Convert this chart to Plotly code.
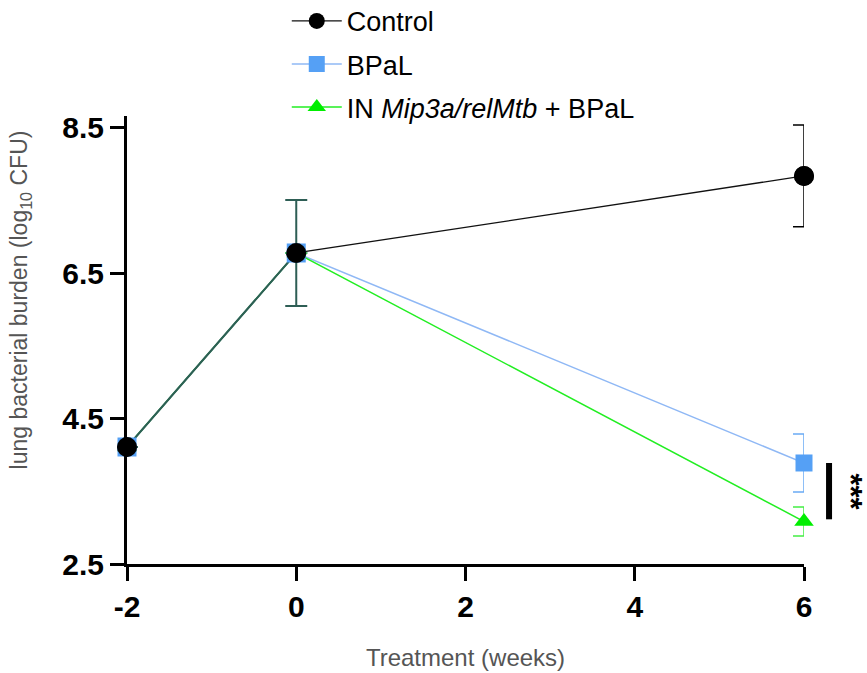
import plotly.graph_objects as go

weeks = [-2, 0, 6]
control = [4.11, 6.78, 7.84]
control_err = [0.0, 0.73, 0.70]
bpal = [4.11, 6.78, 3.89]
bpal_err = [0.0, 0.0, 0.40]
mip = [4.11, 6.78, 3.085]
mip_err = [0.0, 0.0, 0.20]
names = ["Control", "BPaL", "IN <i>Mip3a/relMtb</i> + BPaL"]
yticks = [2.5, 4.5, 6.5, 8.5]
xticks = [-2, 0, 2, 4, 6]
xticktext = ["-2", "0", "2", "4", "6"]

teal = "#2e5e55"
fig = go.Figure()

fig.add_trace(go.Scatter(
    x=weeks, y=control, name=names[0], legendgroup="a",
    mode="lines+markers", cliponaxis=False,
    line=dict(color="#111111", width=1.3),
    marker=dict(symbol="circle", size=20, color="black"),
    error_y=dict(type="data", array=[0, 0, control_err[2]], color="black", thickness=1.5, width=11),
))
fig.add_trace(go.Scatter(
    x=weeks, y=bpal, name=names[1], legendgroup="b",
    mode="lines+markers", cliponaxis=False,
    line=dict(color="#8fb8f5", width=1.5),
    marker=dict(symbol="square", size=17, color="#55a0f5"),
    error_y=dict(type="data", array=bpal_err, color="#6aaaf5", thickness=1.5, width=11),
))
fig.add_trace(go.Scatter(
    x=weeks, y=mip, name=names[2], legendgroup="c",
    mode="lines+markers", cliponaxis=False,
    line=dict(color="#22ee22", width=1.5),
    marker=dict(symbol="triangle-up", size=17, color="#00ee00"),
    error_y=dict(type="data", array=mip_err, color="#44ee44", thickness=1.5, width=11),
))
# overlapping segment & week-0 error bar (blended colour in reference)
fig.add_trace(go.Scatter(
    x=weeks[:2], y=control[:2], showlegend=False,
    mode="lines+markers", cliponaxis=False,
    line=dict(color=teal, width=2),
    marker=dict(symbol="square", size=19, color="#55a0f5"),
    error_y=dict(type="data", array=control_err[:2], color=teal, thickness=2, width=11),
))
fig.add_trace(go.Scatter(
    x=weeks, y=control, showlegend=False,
    mode="markers", cliponaxis=False,
    marker=dict(symbol="circle", size=20, color="black"),
))

# significance bar and stars
fig.add_shape(type="line", xref="paper", yref="y",
              x0=1.037, x1=1.037, y0=bpal[2], y1=mip[2] + 0.03,
              line=dict(color="black", width=6))
fig.add_annotation(xref="paper", yref="y", x=1.098, y=(bpal[2] + mip[2]) / 2,
                   text="***", showarrow=False, textangle=90,
                   font=dict(family="Liberation Sans", size=31, color="black", weight="bold"))

# y-axis title
fig.add_annotation(xref="paper", yref="paper", x=-0.157, y=0.59,
                   text="lung bacterial burden (log<sub>10</sub> CFU)", showarrow=False,
                   textangle=-90, xanchor="center", yanchor="middle",
                   font=dict(size=23, color="#555555"))

fig.update_layout(
    width=867, height=673,
    margin=dict(l=127, r=63, t=116, b=109, autoexpand=False),
    paper_bgcolor="white", plot_bgcolor="white",
    font=dict(family="Liberation Sans, Arial", color="black"),
    legend=dict(x=0.236, y=1.266, xanchor="left", yanchor="top",
                font=dict(size=27, color="black"), tracegroupgap=5,
                itemwidth=50,
                traceorder="grouped", bgcolor="rgba(0,0,0,0)"),
    showlegend=True,
)
fig.update_xaxes(
    range=[-2, 6], tickvals=xticks, ticktext=xticktext, showgrid=False, zeroline=False,
    showline=True, linecolor="black", linewidth=3,
    ticks="outside", ticklen=14, tickwidth=3, tickcolor="black",
    tickfont=dict(size=30, weight="bold", color="black"),
    title=dict(text="Treatment (weeks)", font=dict(size=24, color="#555555"), standoff=28),
)
fig.update_yaxes(
    range=[2.5, 8.665], tickvals=yticks, ticktext=[str(v) for v in yticks],
    showgrid=False, zeroline=False,
    showline=True, linecolor="black", linewidth=3,
    ticks="outside", ticklen=14, tickwidth=3, tickcolor="black",
    tickfont=dict(size=30, weight="bold", color="black"),
)

fig.write_html("out.html")
